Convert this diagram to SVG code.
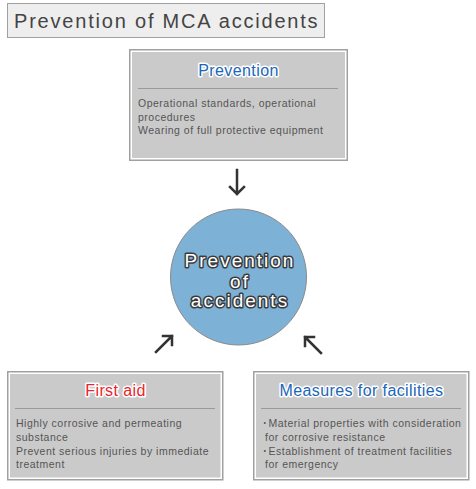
<svg xmlns="http://www.w3.org/2000/svg" width="476" height="489" viewBox="0 0 476 489">
<style>
.box-outer{fill:#ffffff;stroke:#a0a0a0;stroke-width:1.5}
.box-inner{fill:#cacaca}
.sep{stroke:#9a9a9a;stroke-width:1}
.head{font-family:"Liberation Sans",Arial,sans-serif;font-size:16px;letter-spacing:0.4px;text-anchor:middle;stroke:#ffffff;stroke-width:3;stroke-linejoin:round;paint-order:stroke}
.body{font-family:"Liberation Sans",Arial,sans-serif;font-size:10.5px;fill:#555555;letter-spacing:0.5px}
.arrow{fill:none;stroke:#333333;stroke-width:2.5;stroke-linecap:square}
.ctext{font-family:"Liberation Sans",Arial,sans-serif;font-size:19px;fill:#ffffff;stroke:#3a3a3a;stroke-width:3;stroke-linejoin:round;paint-order:stroke;text-anchor:middle;letter-spacing:2px}
</style>
<rect width="476" height="489" fill="#ffffff"/>
<g id="title">
<rect x="7.5" y="3.5" width="317" height="34" fill="#eeeeee" stroke="#a0a0a0" stroke-width="1"/>
<text x="14" y="28" font-family="Liberation Sans, Arial, sans-serif" font-size="20" fill="#444444" letter-spacing="1.8">Prevention of MCA accidents</text>
</g>
<g id="prevention">
<rect class="box-outer" x="129.75" y="49.75" width="217.5" height="110.5"/>
<rect class="box-inner" x="132" y="52" width="213" height="106"/>
<text class="head" x="238.5" y="76" fill="#1a66b8">Prevention</text>
<line class="sep" x1="138" y1="88.5" x2="338" y2="88.5"/>
<text class="body" x="138" y="107">Operational standards, operational</text>
<text class="body" x="138" y="120.5">procedures</text>
<text class="body" x="138" y="134">Wearing of full protective equipment</text>
</g>
<g id="accidents">
<circle cx="238.5" cy="277" r="68" fill="#7db1d6" stroke="#8a8a8a" stroke-width="1"/>
<text class="ctext" x="240" y="267">Prevention</text>
<text class="ctext" x="240" y="288">of</text>
<text class="ctext" x="240" y="307">accidents</text>
</g>
<g id="first-aid">
<rect class="box-outer" x="7.75" y="371.75" width="215" height="108"/>
<rect class="box-inner" x="10" y="374" width="210.5" height="103.5"/>
<text class="head" x="115.5" y="396" fill="#e8242c">First aid</text>
<line class="sep" x1="15" y1="408.5" x2="215" y2="408.5"/>
<text class="body" x="16" y="427">Highly corrosive and permeating</text>
<text class="body" x="16" y="441">substance</text>
<text class="body" x="16" y="454.5">Prevent serious injuries by immediate</text>
<text class="body" x="16" y="468">treatment</text>
</g>
<g id="facilities">
<rect class="box-outer" x="253.75" y="371.75" width="215" height="108"/>
<rect class="box-inner" x="256" y="374" width="210.5" height="103.5"/>
<text class="head" x="361.5" y="396" fill="#1a66b8">Measures for facilities</text>
<line class="sep" x1="261" y1="408.5" x2="461" y2="408.5"/>
<text class="body" x="262" y="427">･Material properties with consideration</text>
<text class="body" x="265" y="441">for corrosive resistance</text>
<text class="body" x="262" y="454.5">･Establishment of treatment facilities</text>
<text class="body" x="265" y="468">for emergency</text>
</g>
<g id="connectors">
<path class="arrow" d="M237 170 V194 M230 187 L237 194 L244 187"/>
<path class="arrow" d="M156 352 L172 336 M163 336 L172 336 L172 345"/>
<path class="arrow" d="M321 353 L305 337 M314 337 L305 337 L305 346"/>
</g>
</svg>
